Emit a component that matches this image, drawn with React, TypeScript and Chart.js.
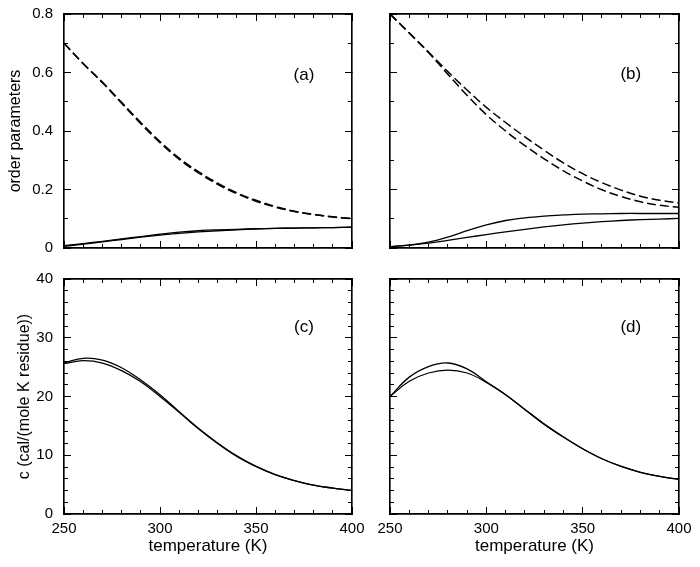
import React, { useEffect, useRef } from 'react';
import { Chart, registerables } from 'chart.js';

Chart.register(...registerables);

// ---------- data ----------
const temperatures = [250, 260, 270, 280, 290, 300, 310, 320, 330, 340, 350, 360, 370, 380, 390, 400];

// panel (a): order parameters
const aDashed1 = [0.700, 0.630, 0.565, 0.495, 0.425, 0.360, 0.303, 0.257, 0.218, 0.186, 0.160, 0.140, 0.125, 0.114, 0.106, 0.100];
const aDashed2 = [0.700, 0.631, 0.567, 0.498, 0.429, 0.364, 0.307, 0.261, 0.222, 0.189, 0.163, 0.142, 0.126, 0.115, 0.107, 0.101];
const aSolid1 = [0.008, 0.015, 0.023, 0.031, 0.039, 0.047, 0.054, 0.059, 0.062, 0.064, 0.066, 0.067, 0.068, 0.069, 0.070, 0.071];
const aSolid2 = [0.006, 0.013, 0.021, 0.029, 0.037, 0.044, 0.050, 0.055, 0.059, 0.062, 0.065, 0.067, 0.068, 0.069, 0.070, 0.071];

// panel (b): order parameters
const bDashed1 = [0.800, 0.735, 0.670, 0.603, 0.540, 0.481, 0.429, 0.380, 0.334, 0.291, 0.254, 0.223, 0.198, 0.177, 0.163, 0.154];
const bDashed2 = [0.800, 0.735, 0.668, 0.594, 0.522, 0.456, 0.400, 0.350, 0.305, 0.264, 0.229, 0.199, 0.176, 0.158, 0.146, 0.139];
const bSolid1 = [0.005, 0.010, 0.020, 0.037, 0.059, 0.079, 0.094, 0.103, 0.109, 0.113, 0.116, 0.117, 0.118, 0.118, 0.118, 0.118];
const bSolid2 = [0.004, 0.010, 0.017, 0.026, 0.036, 0.046, 0.055, 0.064, 0.072, 0.079, 0.085, 0.090, 0.094, 0.097, 0.099, 0.101];

// panel (c): specific heat
const cSolid1 = [25.7, 26.5, 26.2, 24.9, 22.8, 20.3, 17.4, 14.6, 12.1, 9.9, 8.1, 6.7, 5.7, 4.9, 4.4, 4.0];
const cSolid2 = [25.6, 26.1, 25.7, 24.4, 22.5, 20.0, 17.3, 14.5, 12.0, 9.8, 8.1, 6.7, 5.7, 4.9, 4.4, 4.0];

// panel (d): specific heat
const dSolid1 = [20.0, 23.3, 25.1, 25.7, 24.7, 22.5, 20.3, 17.8, 15.3, 13.1, 11.1, 9.4, 8.1, 7.1, 6.4, 5.9];
const dSolid2 = [20.0, 22.6, 24.0, 24.5, 24.0, 22.4, 20.3, 17.8, 15.3, 13.1, 11.1, 9.4, 8.1, 7.1, 6.4, 5.9];

const xTickMajor = 50;
const xTickMinor = 10;
const xMin = 250;
const xMax = 400;

const panelLabels = ['(a)', '(b)', '(c)', '(d)'];
const yTitleTop = 'order parameters';
const yTitleBottom = 'c (cal/(mole K residue))';
const xTitle = 'temperature (K)';

// ---------- layout ----------
const W = 700;
const H = 567;
const FONT = '"Liberation Sans", Arial, Helvetica, sans-serif';

type Series = { values: number[]; dashed: boolean };
type Panel = {
  label: string;
  series: Series[];
  yMin: number;
  yMax: number;
  yMajor: number;
  yMinor: number;
  area: { l: number; t: number; r: number; b: number };
  showXLabels: boolean;
  showYLabels: boolean;
  yTitle?: string;
  yTitlePad: number;
  labelPos: { x: number; y: number };
};

const panels: Panel[] = [
  {
    label: panelLabels[0],
    series: [
      { values: aDashed1, dashed: true },
      { values: aDashed2, dashed: true },
      { values: aSolid1, dashed: false },
      { values: aSolid2, dashed: false },
    ],
    yMin: 0, yMax: 0.8, yMajor: 0.2, yMinor: 0.1,
    area: { l: 64, t: 14, r: 352, b: 248 },
    showXLabels: false, showYLabels: true,
    yTitle: yTitleTop, yTitlePad: 6,
    labelPos: { x: 375, y: 0.59 },
  },
  {
    label: panelLabels[1],
    series: [
      { values: bDashed1, dashed: true },
      { values: bDashed2, dashed: true },
      { values: bSolid1, dashed: false },
      { values: bSolid2, dashed: false },
    ],
    yMin: 0, yMax: 0.8, yMajor: 0.2, yMinor: 0.1,
    area: { l: 390, t: 14, r: 679, b: 248 },
    showXLabels: false, showYLabels: false,
    yTitlePad: 0,
    labelPos: { x: 375, y: 0.595 },
  },
  {
    label: panelLabels[2],
    series: [
      { values: cSolid1, dashed: false },
      { values: cSolid2, dashed: false },
    ],
    yMin: 0, yMax: 40, yMajor: 10, yMinor: 2,
    area: { l: 64, t: 279, r: 352, b: 514 },
    showXLabels: true, showYLabels: true,
    yTitle: yTitleBottom, yTitlePad: 15,
    labelPos: { x: 375, y: 31.7 },
  },
  {
    label: panelLabels[3],
    series: [
      { values: dSolid1, dashed: false },
      { values: dSolid2, dashed: false },
    ],
    yMin: 0, yMax: 40, yMajor: 10, yMinor: 2,
    area: { l: 390, t: 279, r: 679, b: 514 },
    showXLabels: true, showYLabels: false,
    yTitlePad: 0,
    labelPos: { x: 375, y: 31.7 },
  },
];

const panelLabelPlugin = {
  id: 'panelLabel',
  afterDraw(chart: any, _args: any, opts: any) {
    const { ctx, scales } = chart;
    if (!opts || !opts.text) return;
    ctx.save();
    ctx.font = `17px ${FONT}`;
    ctx.fillStyle = '#000';
    ctx.textAlign = 'center';
    ctx.textBaseline = 'middle';
    ctx.fillText(opts.text, scales.x.getPixelForValue(opts.x), scales.y.getPixelForValue(opts.y));
    ctx.restore();
  },
};

function tickAxis(opts: {
  position: 'left' | 'right' | 'top' | 'bottom';
  min: number; max: number; step: number; len: number; weight: number;
  size: number; labels: boolean; labelPad?: number;
  title?: string; titleSize?: number; titlePad?: any;
}) {
  const horizontal = opts.position === 'top' || opts.position === 'bottom';
  return {
    type: 'linear',
    position: opts.position,
    min: opts.min,
    max: opts.max,
    weight: opts.weight,
    grid: {
      drawOnChartArea: false,
      drawTicks: true,
      tickLength: -opts.len,
      tickColor: '#000',
      tickWidth: 1,
      color: '#000',
    },
    border: { display: true, color: '#000', width: 1.4 },
    ticks: {
      display: opts.labels,
      stepSize: opts.step,
      color: '#000',
      padding: opts.labelPad ?? 0,
      maxRotation: 0,
      autoSkip: false,
      font: { family: FONT, size: 15 },
    },
    title: {
      display: !!opts.title,
      text: opts.title || '',
      color: '#000',
      font: { family: FONT, size: opts.titleSize || 16 },
      padding: opts.titlePad || 0,
    },
    afterFit(scale: any) {
      if (horizontal) scale.height = opts.size;
      else scale.width = opts.size;
      scale.paddingTop = 0;
      scale.paddingBottom = 0;
      scale.paddingLeft = 0;
      scale.paddingRight = 0;
    },
  };
}

function PanelChart({ panel }: { panel: Panel }) {
  const ref = useRef<HTMLCanvasElement | null>(null);

  useEffect(() => {
    if (!ref.current) return;
    const p = panel;
    const { l, t, r, b } = p.area;
    const datasets = p.series.map((s) => ({
      data: temperatures.map((x, i) => ({ x, y: s.values[i] })),
      borderColor: '#000',
      borderWidth: s.dashed ? 1.5 : 1.3,
      borderDash: s.dashed ? [9, 4] : [],
      pointRadius: 0,
      fill: false,
      tension: 0.4,
      xAxisID: 'x',
      yAxisID: 'y',
    }));

    const chart = new Chart(ref.current, {
      type: 'line',
      data: { datasets },
      plugins: [panelLabelPlugin],
      options: {
        animation: false,
        responsive: false,
        devicePixelRatio: 1,
        events: [],
        layout: { padding: { left: 0, top: t, right: W - r, bottom: 0 } },
        plugins: {
          legend: { display: false },
          tooltip: { enabled: false },
          title: { display: false },
          panelLabel: { text: p.label, x: p.labelPos.x, y: p.labelPos.y },
        } as any,
        scales: {
          x: tickAxis({
            position: 'bottom', min: xMin, max: xMax, step: xTickMajor, len: 7, weight: 1,
            size: H - b, labels: p.showXLabels, labelPad: 13,
            title: p.showXLabels ? xTitle : undefined, titleSize: 17,
            titlePad: { top: 0, bottom: 10 },
          }),
          xMinor: tickAxis({
            position: 'bottom', min: xMin, max: xMax, step: xTickMinor, len: 4, weight: 0,
            size: 0, labels: false,
          }),
          xTop: tickAxis({
            position: 'top', min: xMin, max: xMax, step: xTickMajor, len: 7, weight: 1,
            size: 0, labels: false,
          }),
          xTopMinor: tickAxis({
            position: 'top', min: xMin, max: xMax, step: xTickMinor, len: 4, weight: 0,
            size: 0, labels: false,
          }),
          y: tickAxis({
            position: 'left', min: p.yMin, max: p.yMax, step: p.yMajor, len: 7, weight: 1,
            size: l, labels: p.showYLabels, labelPad: 18,
            title: p.yTitle, titleSize: 16,
            titlePad: { top: p.yTitlePad, bottom: 0 },
          }),
          yMinor: tickAxis({
            position: 'left', min: p.yMin, max: p.yMax, step: p.yMinor, len: 4, weight: 0,
            size: 0, labels: false,
          }),
          yRight: tickAxis({
            position: 'right', min: p.yMin, max: p.yMax, step: p.yMajor, len: 7, weight: 1,
            size: 0, labels: false,
          }),
          yRightMinor: tickAxis({
            position: 'right', min: p.yMin, max: p.yMax, step: p.yMinor, len: 4, weight: 0,
            size: 0, labels: false,
          }),
        } as any,
      },
    } as any);

    return () => chart.destroy();
  }, [panel]);

  return (
    <canvas
      ref={ref}
      width={W}
      height={H}
      style={{ position: 'absolute', left: 0, top: 0, width: W, height: H, display: 'block' }}
    />
  );
}

export default function App() {
  return (
    <div
      style={{
        position: 'absolute',
        left: 0,
        top: 0,
        width: W,
        height: H,
        background: '#fff',
        overflow: 'hidden',
      }}
    >
      {panels.map((p) => (
        <PanelChart key={p.label} panel={p} />
      ))}
    </div>
  );
}
